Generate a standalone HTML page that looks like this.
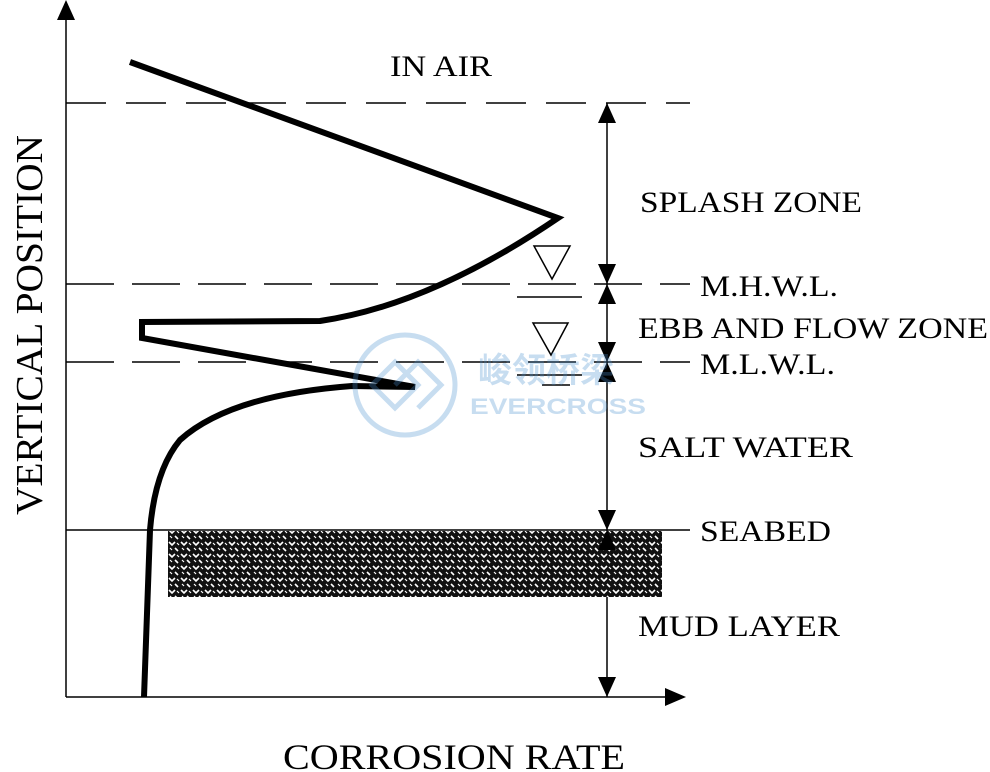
<!DOCTYPE html>
<html><head><style>html,body{margin:0;padding:0;background:#fff}svg{display:block}</style></head><body>
<svg width="990" height="772" viewBox="0 0 990 772" xmlns="http://www.w3.org/2000/svg" font-family="Liberation Serif, serif">
<defs>
<pattern id="h" width="12" height="12" patternUnits="userSpaceOnUse">
<rect width="12" height="12" fill="#111"/>
<path d="M1 2 L4 5 L7 2 M7 8 L10 11" stroke="#fff" stroke-width="1.6" fill="none"/>
<path d="M2 8 L4 10 M9 3 L11 5" stroke="#fff" stroke-width="1.2" fill="none"/>
</pattern>
</defs>
<g stroke="#000" stroke-width="1.5" fill="none">
<line x1="66" y1="18" x2="66" y2="697"/>
<line x1="66" y1="697" x2="670" y2="697"/>
<line x1="66" y1="103" x2="690" y2="103" stroke-dasharray="40 20"/>
<line x1="66" y1="284" x2="690" y2="284" stroke-dasharray="48 18"/>
<line x1="66" y1="362" x2="690" y2="362" stroke-dasharray="48 18"/>
<line x1="66" y1="530" x2="690" y2="530"/>
<line x1="607" y1="103" x2="607" y2="697"/>
<line x1="517" y1="297" x2="582" y2="297"/>
<line x1="517" y1="375" x2="582" y2="375"/>
<line x1="542" y1="385" x2="570" y2="385"/>
<polygon points="534,246 570,246 552,279"/>
<polygon points="533,323 568,323 551,355"/>
</g>
<rect x="168" y="531" width="494" height="66" fill="url(#h)"/>
<g fill="#000">
<polygon points="57,20 75,20 66,0"/>
<polygon points="665,688 665,706 686,697"/>
<polygon points="598,123 616,123 607,103"/>
<polygon points="598,264 616,264 607,284"/>
<polygon points="598,304 616,304 607,284"/>
<polygon points="598,342 616,342 607,362"/>
<polygon points="598,382 616,382 607,362"/>
<polygon points="598,510 616,510 607,530"/>
<polygon points="598,550 616,550 607,530"/>
<polygon points="598,677 616,677 607,697"/>
</g>
<path d="M130 62 L558 218 Q430 305 320 321 L142 322 L142 338 L415 387 L352 386 Q230 395 180 440 Q155 470 150 530 L144 697" stroke="#000" stroke-width="6" fill="none" stroke-linejoin="miter"/>
<g font-size="30" fill="#000" lengthAdjust="spacingAndGlyphs">
<text x="390" y="76" textLength="102" lengthAdjust="spacingAndGlyphs">IN AIR</text>
<text x="640" y="212" textLength="222" lengthAdjust="spacingAndGlyphs">SPLASH ZONE</text>
<text x="700" y="296" textLength="138" lengthAdjust="spacingAndGlyphs">M.H.W.L.</text>
<text x="638" y="338" textLength="350" lengthAdjust="spacingAndGlyphs">EBB AND FLOW ZONE</text>
<text x="700" y="374" textLength="135" lengthAdjust="spacingAndGlyphs">M.L.W.L.</text>
<text x="638" y="457" textLength="215" lengthAdjust="spacingAndGlyphs">SALT WATER</text>
<text x="700" y="541" textLength="131" lengthAdjust="spacingAndGlyphs">SEABED</text>
<text x="638" y="636" textLength="202" lengthAdjust="spacingAndGlyphs">MUD LAYER</text>
<text x="283" y="769" font-size="36" textLength="342" lengthAdjust="spacingAndGlyphs">CORROSION RATE</text>
<text transform="translate(42,515) rotate(-90)" font-size="38" textLength="380" lengthAdjust="spacingAndGlyphs">VERTICAL POSITION</text>
</g>
<g opacity="0.3" fill="none" stroke="#4a90d0" stroke-width="5">
<circle cx="405" cy="385" r="50"/>
<path d="M372 385 L395 362 L418 385 L395 408 Z M395 385 L418 362 L441 385 L418 408"/>
</g>
<text x="478" y="382" font-family="Noto Sans CJK SC, sans-serif" font-size="34" font-weight="bold" fill="#4a90d0" opacity="0.3">峻领桥梁</text>
<text x="470" y="414" font-family="Liberation Sans, sans-serif" font-size="22" font-weight="bold" fill="#4a90d0" opacity="0.3" textLength="176" lengthAdjust="spacingAndGlyphs">EVERCROSS</text>
</svg>
</body></html>
